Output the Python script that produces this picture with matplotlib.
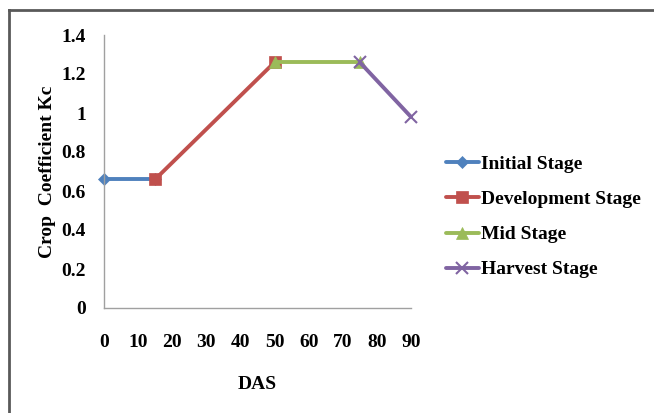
import matplotlib
matplotlib.use("Agg")
import matplotlib.pyplot as plt
from matplotlib.lines import Line2D

series_names = ["Initial Stage", "Development Stage", "Mid Stage", "Harvest Stage"]
initial_x = [0, 15]
initial_y = [0.66, 0.66]
development_x = [15, 50]
development_y = [0.66, 1.26]
mid_x = [50, 75]
mid_y = [1.26, 1.26]
harvest_x = [75, 90]
harvest_y = [1.26, 0.98]
x_ticks = [0, 10, 20, 30, 40, 50, 60, 70, 80, 90]
y_ticks = [0, 0.2, 0.4, 0.6, 0.8, 1.0, 1.2, 1.4]
y_tick_labels = ["0", "0.2", "0.4", "0.6", "0.8", "1", "1.2", "1.4"]

plt.rcParams['font.family'] = ['Liberation Serif', 'DejaVu Serif']
plt.rcParams['font.weight'] = 'bold'

fig = plt.figure(figsize=(6.54, 4.13), dpi=100)
ax = fig.add_axes([104/654, 1-308/413, (411-104)/654, (308-35)/413])

colors = ["#4F81BD", "#C0504D", "#9BBB59", "#8064A2"]
markers = ["D", "s", "^", "x"]
msizes = [6, 8, 8, 9]
data = [(initial_x, initial_y), (development_x, development_y), (mid_x, mid_y), (harvest_x, harvest_y)]
for (xs, ys), c, m, ms, name in zip(data, colors, markers, msizes, series_names):
    ax.plot(xs, ys, color=c, lw=2.8, marker=m, markersize=ms, mew=1.5 if m == "x" else 0.5,
            mec=c, label=name, clip_on=False, solid_capstyle='round')

ax.set_xlim(0, 90)
ax.set_ylim(0, 1.4)
ax.set_xticks(x_ticks)
ax.set_xticklabels([str(v) for v in x_ticks], fontsize=14, fontweight='bold')
ax.set_yticks(y_ticks)
ax.set_yticklabels(y_tick_labels, fontsize=14, fontweight='bold')
ax.tick_params(length=0)
ax.tick_params(axis='x', pad=19)
ax.tick_params(axis='y', pad=13)
for s in ["top", "right"]:
    ax.spines[s].set_visible(False)
for s in ["left", "bottom"]:
    ax.spines[s].set_color("#A0A0A0")
    ax.spines[s].set_linewidth(1.0)

ax.set_xlabel("DAS", fontsize=14, fontweight='bold', labelpad=18)
ax.set_ylabel("Crop  Coefficient Kc", fontsize=14, fontweight='bold', labelpad=4)

leg = fig.legend(loc='upper left', bbox_to_anchor=(428/654, 1-138/413), frameon=False,
                 prop={'size': 14, 'weight': 'bold'}, labelspacing=0.9, handlelength=1.7,
                 handletextpad=0.15)

# outer border
fig.add_artist(Line2D([9/654, 1], [1-10/413, 1-10/413], color="#595959", lw=2, transform=fig.transFigure))
fig.add_artist(Line2D([9/654, 9/654], [0, 1-10/413], color="#595959", lw=2, transform=fig.transFigure))

fig.savefig("out.png", dpi=100)
